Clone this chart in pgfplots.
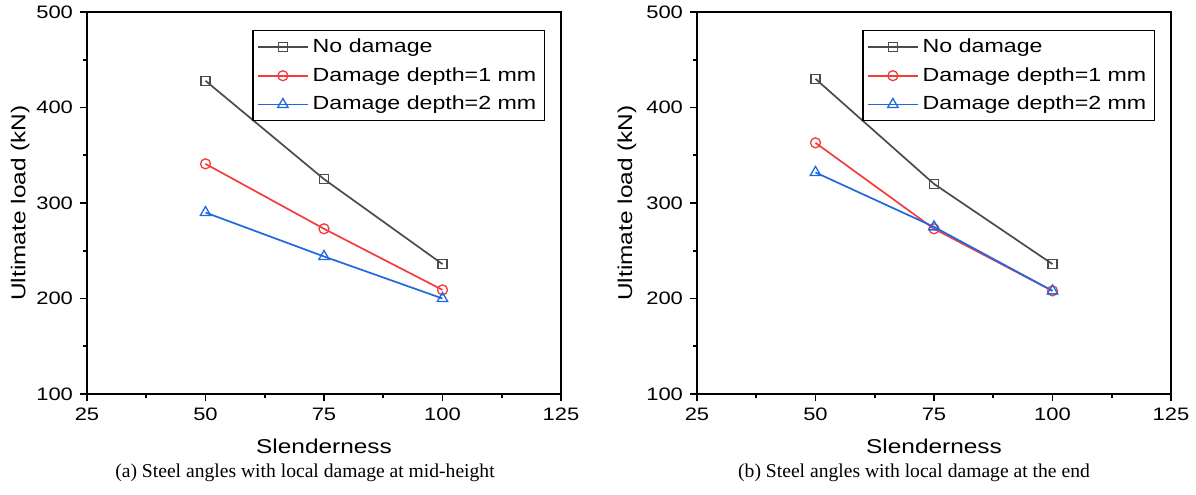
\documentclass[border=0pt]{standalone}
\usepackage{pgfplots}
\pgfplotsset{compat=1.18}
\usepackage{fontspec}
\setmainfont{Liberation Sans}[FakeStretch=1.22]
\newfontfamily\capfont{Liberation Serif}
\definecolor{cgray}{RGB}{75,75,75}
\definecolor{cred}{RGB}{245,60,60}
\definecolor{cblue}{RGB}{30,105,225}
\pgfplotstableread{
x nodmg d1 d2
50 428 341 290
75 325 273 244
100 236 209 200
}\tabA
\pgfplotstableread{
x nodmg d1 d2
50 430 363 332
75 320 273 275
100 236 208 208
}\tabB
\pgfplotsset{
  myaxis/.style={
    scale only axis, width=237pt, height=191pt,
    xmin=25, xmax=125, ymin=100, ymax=500,
    xtick={25,50,75,100,125}, ytick={100,200,300,400,500},
    minor x tick num=1, minor y tick num=1,
    tick align=outside, tick pos=left,
    major tick length=3.5pt, minor tick length=2pt,
    axis line style={line width=0.8pt}, every tick/.style={line width=0.8pt, black},
    /pgf/number format/assume math mode=true,
    tick label style={font=\fontsize{9}{10}\selectfont},
    label style={font=\fontsize{9.5}{11}\selectfont},
    xlabel={Slenderness}, ylabel={Ultimate load (kN)},
    every axis x label/.style={at={(axis description cs:0.5,-0.136)}, anchor=center},
    every axis y label/.style={at={(axis description cs:-0.141,0.5)}, anchor=center, rotate=90},
    legend cell align=left,
    legend style={at={(axis description cs:0.966,0.953)}, anchor=north east,
      font=\fontsize{9.5}{11}\selectfont, draw=black, line width=0.6pt,
      row sep=2pt, inner sep=2pt},
    legend image code/.code={\draw[mark repeat=2,mark phase=2] plot coordinates {(0pt,0pt)(12.5pt,0pt)(25pt,0pt)};},
  },
  s1/.style={cgray, line width=0.85pt, mark=square, mark size=2.2pt, mark options={line width=0.65pt}},
  s2/.style={cred, line width=0.85pt, mark=o, mark size=2.5pt, mark options={line width=0.65pt}},
  s3/.style={cblue, line width=0.85pt, mark=triangle, mark size=3pt, mark options={line width=0.65pt}},
}
\begin{document}
\begin{tikzpicture}
\useasboundingbox (-43.5pt,-50pt) rectangle (554.5pt,197pt);
\begin{axis}[myaxis]
\addplot[s1] table[x=x,y=nodmg]{\tabA};
\addplot[s2] table[x=x,y=d1]{\tabA};
\addplot[s3] table[x=x,y=d2]{\tabA};
\legend{No damage, Damage depth=1 mm, Damage depth=2 mm}
\end{axis}
\begin{axis}[myaxis, xshift=305pt, every axis y label/.style={at={(axis description cs:-0.148,0.5)}, anchor=center, rotate=90}]
\addplot[s1] table[x=x,y=nodmg]{\tabB};
\addplot[s2] table[x=x,y=d1]{\tabB};
\addplot[s3] table[x=x,y=d2]{\tabB};
\legend{No damage, Damage depth=1 mm, Damage depth=2 mm}
\end{axis}
\node[font=\capfont\fontsize{9.8}{11}\selectfont, anchor=center] at (109pt,-39.5pt) {(a) Steel angles with local damage at mid-height};
\node[font=\capfont\fontsize{9.8}{11}\selectfont, anchor=center] at (413.5pt,-39.5pt) {(b) Steel angles with local damage at the end};
\end{tikzpicture}
\end{document}
